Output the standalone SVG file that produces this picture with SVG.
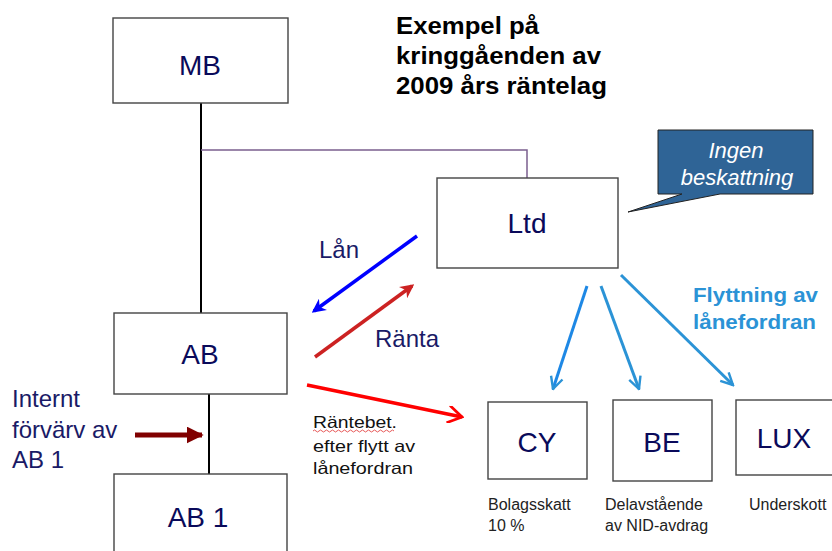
<svg xmlns="http://www.w3.org/2000/svg" width="832" height="551" viewBox="0 0 832 551">
<style>
.box{fill:#fff;stroke:#444;stroke-width:1.4}
.lbl{font-family:"Liberation Sans",Arial,sans-serif;font-size:28px;fill:#0a0a5a;text-anchor:middle}
.note{font-family:"Liberation Sans",Arial,sans-serif;font-size:16px;fill:#222}
.title{font-family:"Liberation Sans",Arial,sans-serif;font-size:23px;font-weight:bold;fill:#000}
.nav{font-family:"Liberation Sans",Arial,sans-serif;font-size:24px;fill:#1a1a66}
.rb{font-family:"Liberation Sans",Arial,sans-serif;font-size:16.5px;fill:#111}
.fly{font-family:"Liberation Sans",Arial,sans-serif;font-size:20px;font-weight:bold;fill:#2b93d6}
</style>
<defs>
<marker id="hBlue" viewBox="0 0 10 10" refX="8" refY="5" markerWidth="4" markerHeight="4" orient="auto" markerUnits="strokeWidth"><path d="M0,0L10,5L0,10L3,5z" fill="#0000ff"/></marker>
<marker id="hRed" viewBox="0 0 10 10" refX="8" refY="5" markerWidth="4" markerHeight="4" orient="auto" markerUnits="strokeWidth"><path d="M0,0L10,5L0,10L3,5z" fill="#cc2222"/></marker>
<marker id="hRed2" viewBox="0 0 10 10" refX="9" refY="5" markerWidth="5" markerHeight="5" orient="auto" markerUnits="strokeWidth"><path d="M1,0L9,5L1,10" fill="none" stroke="#ff0000" stroke-width="1.6"/></marker>
<marker id="hDark" viewBox="0 0 10 10" refX="9" refY="5" markerWidth="3.4" markerHeight="3.4" orient="auto" markerUnits="strokeWidth"><path d="M0,0L10,5L0,10z" fill="#800000"/></marker>
<marker id="hLb" viewBox="0 0 10 10" refX="9" refY="5" markerWidth="5" markerHeight="5" orient="auto" markerUnits="strokeWidth"><path d="M1,1L9,5L1,9" fill="none" stroke="#2b93d6" stroke-width="1.6"/></marker>
</defs>

<g id="title">
<text class="title" x="396" y="34" textLength="143" lengthAdjust="spacingAndGlyphs">Exempel på</text>
<text class="title" x="396" y="64" textLength="205" lengthAdjust="spacingAndGlyphs">kringgåenden av</text>
<text class="title" x="396" y="94" textLength="211" lengthAdjust="spacingAndGlyphs">2009 års räntelag</text>
</g>

<g id="connectors">
<line x1="201" y1="103" x2="201" y2="313" stroke="#000" stroke-width="2"/>
<polyline points="201,150 527,150 527,178" fill="none" stroke="#7b5f8f" stroke-width="1.5"/>
<line x1="209" y1="394" x2="209" y2="474" stroke="#000" stroke-width="2"/>
<line x1="417" y1="236" x2="314" y2="311" stroke="#0000ff" stroke-width="3.5" marker-end="url(#hBlue)"/>
<line x1="315" y1="357" x2="412" y2="286" stroke="#cc2222" stroke-width="3.5" marker-end="url(#hRed)"/>
<line x1="307" y1="385" x2="462" y2="417" stroke="#ff0000" stroke-width="3.5" marker-end="url(#hRed2)"/>
<line x1="135" y1="435" x2="202" y2="435" stroke="#800000" stroke-width="5" marker-end="url(#hDark)"/>
<line x1="587" y1="286" x2="553" y2="389" stroke="#1e88e5" stroke-width="3" marker-end="url(#hLb)"/>
<line x1="601" y1="286" x2="639" y2="389" stroke="#2b93d6" stroke-width="3" marker-end="url(#hLb)"/>
<line x1="621" y1="275" x2="733" y2="385" stroke="#2b93d6" stroke-width="3" marker-end="url(#hLb)"/>
</g>

<g id="MB"><rect class="box" x="113" y="18" width="175" height="85"/><text class="lbl" x="200" y="75">MB</text></g>
<g id="Ltd"><rect class="box" x="437" y="178" width="181" height="90"/><text class="lbl" x="527" y="233">Ltd</text></g>
<g id="AB"><rect class="box" x="114" y="313" width="173" height="81"/><text class="lbl" x="200" y="364">AB</text></g>
<g id="AB1"><rect class="box" x="114" y="474" width="173" height="90"/><text class="lbl" x="198" y="527">AB 1</text></g>
<g id="CY"><rect class="box" x="488" y="402" width="99" height="77"/><text class="lbl" x="537" y="452">CY</text></g>
<g id="BE"><rect class="box" x="613" y="400" width="99" height="81"/><text class="lbl" x="662" y="452">BE</text></g>
<g id="LUX"><rect class="box" x="736" y="400" width="104" height="75"/><text class="lbl" x="784" y="448">LUX</text></g>

<g id="callout">
<path d="M658,130H813V194H720L628,212L682,194H658Z" fill="#2f6496" stroke="#222" stroke-width="1"/>
<text x="736" y="158" font-family="'Liberation Sans',Arial,sans-serif" font-size="22" font-style="italic" fill="#fff" text-anchor="middle">Ingen</text>
<text x="737" y="185" font-family="'Liberation Sans',Arial,sans-serif" font-size="22" font-style="italic" fill="#fff" text-anchor="middle">beskattning</text>
</g>

<g id="labels">
<text class="nav" x="319" y="258">Lån</text>
<text class="nav" x="375" y="347">Ränta</text>
<text class="nav" x="12" y="407">Internt</text>
<text class="nav" x="12" y="438">förvärv  av</text>
<text class="nav" x="12" y="468">AB 1</text>
<text class="fly" x="693" y="302" textLength="125" lengthAdjust="spacingAndGlyphs">Flyttning  av</text>
<text class="fly" x="693" y="329" textLength="123" lengthAdjust="spacingAndGlyphs">lånefordran</text>
<text class="rb" x="313" y="428" textLength="84" lengthAdjust="spacingAndGlyphs">Räntebet.</text>
<path d="M313,431q1.5,-2 3,0t3,0t3,0t3,0t3,0t3,0t3,0t3,0t3,0t3,0t3,0t3,0t3,0t3,0t3,0t3,0t3,0t3,0t3,0t3,0t3,0t3,0t3,0t3,0t3,0t3,0t3,0" fill="none" stroke="#e03030" stroke-width="0.8"/>
<text class="rb" x="313" y="452" textLength="102" lengthAdjust="spacingAndGlyphs">efter flytt av</text>
<text class="rb" x="313" y="474" textLength="100" lengthAdjust="spacingAndGlyphs">lånefordran</text>
<text class="note" x="488" y="510">Bolagsskatt</text>
<text class="note" x="488" y="531">10 %</text>
<text class="note" x="605" y="510">Delavstående</text>
<text class="note" x="605" y="531">av NID-avdrag</text>
<text class="note" x="749" y="510">Underskott</text>
</g>
</svg>
